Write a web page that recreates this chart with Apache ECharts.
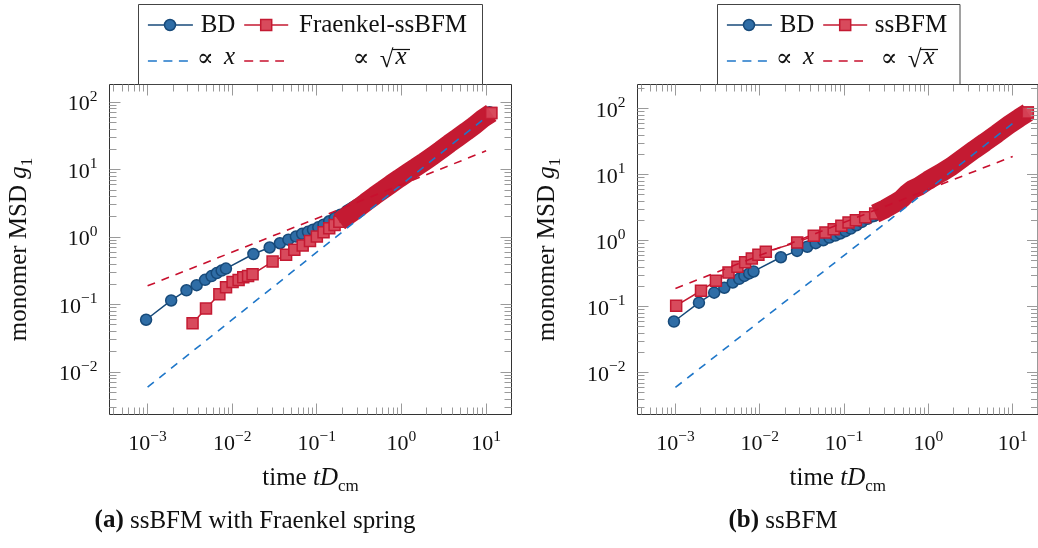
<!DOCTYPE html>
<html><head><meta charset="utf-8">
<script src="https://cdn.jsdelivr.net/npm/echarts@6/dist/echarts.min.js"></script>
<style>html,body{margin:0;padding:0;background:#fff}#c{width:1038px;height:548px}</style>
</head><body><div id="c"></div>
<script>
// ---------------- data ----------------
// Brownian dynamics reference (same in both panels)
const bdX = [0.00096, 0.0019, 0.00288, 0.0038, 0.00478, 0.0057, 0.00657, 0.0075, 0.00843,
  0.0178, 0.0277, 0.0366, 0.0461, 0.0566, 0.067, 0.0785, 0.09, 0.104, 0.12, 0.14, 0.163, 0.19,
  0.22, 0.27, 0.35, 0.45, 0.6, 0.8, 1.0, 1.4, 2.0, 3.0, 4.3, 6.0, 8.5, 11.0];
const bdY = [0.0598, 0.1155, 0.1635, 0.1945, 0.2335, 0.265, 0.294, 0.32, 0.343,
  0.563, 0.703, 0.813, 0.92, 1.02, 1.12, 1.20, 1.29, 1.40, 1.53, 1.72, 1.93, 2.15,
  2.35, 2.75, 3.35, 4.1, 5.3, 6.7, 8.0, 10.8, 15.2, 22, 30.5, 41, 57, 71];
// Fraenkel-ssBFM (panel a)
const frX = [0.0034, 0.0049, 0.00705, 0.00845, 0.0101, 0.0119, 0.0135, 0.0154, 0.0174, 0.030,
  0.0433, 0.0542, 0.068, 0.083, 0.10, 0.12, 0.14, 0.162, 0.1845, 0.22, 0.265, 0.32, 0.38, 0.48,
  0.60, 0.75, 0.944, 1.2, 1.49, 1.85, 2.34, 2.9, 3.68, 4.6, 5.8, 7.3, 9.12, 11.5];
const frY = [0.0532, 0.0875, 0.143, 0.182, 0.216, 0.233, 0.255, 0.267, 0.283, 0.435,
  0.547, 0.649, 0.751, 0.88, 1.02, 1.18, 1.36, 1.52, 1.70, 2.0, 2.35, 2.8, 3.3, 4.1,
  5.0, 6.1, 7.45, 9.1, 10.9, 13.1, 16.0, 19.5, 24.4, 29.8, 36.7, 45.5, 57, 69];
// ssBFM (panel b)
const ssX = [0.00102, 0.00201, 0.00302, 0.00426, 0.00544, 0.00671, 0.00805, 0.00964, 0.0118,
  0.0278, 0.0437, 0.0601, 0.0753, 0.0929, 0.113, 0.138, 0.178, 0.234, 0.308, 0.40, 0.483, 0.55,
  0.63, 0.76, 1.0, 1.4, 1.88, 2.6, 3.5, 4.66, 6.5, 9.0, 12.0, 15.1];
const ssY = [0.104, 0.175, 0.248, 0.332, 0.404, 0.471, 0.541, 0.614, 0.681,
  0.946, 1.19, 1.34, 1.50, 1.69, 1.90, 2.05, 2.28, 2.58, 3.05, 3.7, 4.3, 5.1,
  5.9, 6.6, 8.3, 10.6, 13.4, 18.2, 24, 31, 42, 57, 73, 88];
// guide lines  ∝ x  and  ∝ sqrt(x)
const refX = [0.001, 10];
const refLinY = [0.006, 60];
const refSqrtY = [0.19, 19];
// where the sampled points become so dense that they merge into a band
const bdBandFrom = 0.22, frBandFrom = 0.1845, ssBandFrom = 0.234;
// ticks
const xTickExponents = [-3, -2, -1, 0, 1];
const yTickExponents = [-2, -1, 0, 1, 2];
const minorExpX = [-4, -3, -2, -1, 0, 1];
const minorExpY = [-3, -2, -1, 0, 1, 2];
const minorMultipliers = [2, 3, 4, 5, 6, 7, 8, 9];
// texts
const legendSecond = ['Fraenkel-ssBFM', 'ssBFM'];
const captionTag = ['(a)', '(b)'];
const captionText = [' ssBFM with Fraenkel spring', ' ssBFM'];

// ---------------- layout / style ----------------
const FONT = '"Liberation Serif","DejaVu Serif",serif';
const X_RANGE = [-3.45, 1.30];
const Y_RANGES = [[-2.627, 2.262], [-2.632, 2.368]];
const GRIDS = [{left: 109.5, top: 84.5, width: 402, height: 330},
               {left: 637.5, top: 84.5, width: 402, height: 330}];
const BD_LINE = '#174a7a', BD_FILL = '#2f6da6';
const RED_LINE = '#c41a32', RED_FILL = '#d84a5c';
const BLUE_DASH = '#1f77c9', RED_DASH = '#c8102e';
const TICK = '#9a9a9a';

function pairs(xs, ys) { return xs.map((x, i) => [x, ys[i]]); }

function tickData() {
  const d = [];
  xTickExponents.forEach(e => d.push([Math.pow(10, e), 1, 1]));
  minorExpX.forEach(e => minorMultipliers.forEach(m => d.push([m * Math.pow(10, e), 1, 0])));
  yTickExponents.forEach(e => d.push([1, Math.pow(10, e), 3]));
  minorExpY.forEach(e => minorMultipliers.forEach(m => d.push([1, m * Math.pow(10, e), 2])));
  return d;
}
function renderTick(params, api) {
  const cs = params.coordSys;
  const k = api.value(2);
  const pt = api.coord([api.value(0), api.value(1)]);
  const len = (k === 1 || k === 3) ? 11 : 7;
  const st = {stroke: TICK, lineWidth: 1};
  if (k < 2) {
    const x = pt[0];
    if (x < cs.x + 1 || x > cs.x + cs.width - 1) return null;
    const xx = Math.round(x - 0.5) + 0.5;
    const b = cs.y + cs.height, t = cs.y;
    return {type: 'group', children: [
      {type: 'line', shape: {x1: xx, y1: b, x2: xx, y2: b - len}, style: st},
      {type: 'line', shape: {x1: xx, y1: t, x2: xx, y2: t + len}, style: st}]};
  } else {
    const y = pt[1];
    if (y < cs.y + 1 || y > cs.y + cs.height - 1) return null;
    const yy = Math.round(y - 0.5) + 0.5;
    const l = cs.x, r = cs.x + cs.width;
    return {type: 'group', children: [
      {type: 'line', shape: {x1: l, y1: yy, x2: l + len, y2: yy}, style: st},
      {type: 'line', shape: {x1: r, y1: yy, x2: r - len, y2: yy}, style: st}]};
  }
}

function fmtPow(v) {
  const e = Math.round(Math.log10(v));
  return '{b|10}{s|' + (e < 0 ? '\u2212' + (-e) : String(e)) + '}';
}
const powRich = {
  b: {fontSize: 22, fontFamily: FONT, lineHeight: 27, verticalAlign: 'bottom', color: '#111'},
  s: {fontSize: 15.5, fontFamily: FONT, lineHeight: 15, verticalAlign: 'top', color: '#111'}
};
const nameRich = {
  n: {fontSize: 25, fontFamily: FONT, lineHeight: 30, verticalAlign: 'top', color: '#111'},
  i: {fontSize: 25, fontFamily: FONT, fontStyle: 'italic', lineHeight: 30, verticalAlign: 'top', color: '#111'},
  s: {fontSize: 17, fontFamily: FONT, lineHeight: 22, verticalAlign: 'bottom', color: '#111'}
};

function panelSeries(p) {
  const red = p === 0 ? pairs(frX, frY) : pairs(ssX, ssY);
  const redBandFrom = p === 0 ? frBandFrom : ssBandFrom;
  const bd = pairs(bdX, bdY);
  const c = {xAxisIndex: p, yAxisIndex: p, silent: true, animation: false, emphasis: {disabled: true}};
  const redItem = {color: RED_FILL, borderColor: RED_LINE, borderWidth: 1.5};
  return [
    Object.assign({}, c, {type: 'line', name: 'BD', data: bd, symbol: 'circle', symbolSize: 11,
      lineStyle: {color: BD_LINE, width: 1.5}, itemStyle: {color: BD_FILL, borderColor: BD_LINE, borderWidth: 1.5}, z: 2}),
    Object.assign({}, c, {type: 'line', data: bd.filter(d => d[0] >= bdBandFrom), symbol: 'none',
      lineStyle: {color: BD_LINE, width: 13}, z: 3}),
    Object.assign({}, c, {type: 'line', name: legendSecond[p], data: red, symbol: 'rect', symbolSize: 11,
      lineStyle: {color: RED_LINE, width: 1.5}, itemStyle: redItem, z: 4}),
    Object.assign({}, c, {type: 'line', data: red.filter(d => d[0] >= redBandFrom), symbol: 'none',
      lineStyle: {color: RED_LINE, width: 19}, z: 5}),
    Object.assign({}, c, {type: 'scatter', data: [red[red.length - 1]], symbol: 'rect', symbolSize: 11,
      itemStyle: redItem, z: 6}),
    Object.assign({}, c, {type: 'line', data: pairs(refX, refLinY), symbol: 'none',
      lineStyle: {color: BLUE_DASH, width: 1.6, type: [8, 7]}, z: 7}),
    Object.assign({}, c, {type: 'line', data: pairs(refX, refSqrtY), symbol: 'none',
      lineStyle: {color: RED_DASH, width: 1.6, type: [8, 7]}, z: 7}),
    Object.assign({}, c, {type: 'custom', data: tickData(), renderItem: renderTick,
      encode: {x: 0, y: 1}, z: 8, clip: false})
  ];
}

function legendGraphic(p) {
  const bx = p === 0 ? 138.5 : 717.5;
  const w = p === 0 ? 344 : 242.5;
  const c2 = p === 0 ? 383 : 911;
  const r1 = 25, r2 = 61;
  const txt = (t, x, y) => ({type: 'text', z: 12,
    style: {text: t, x: x, y: y, fill: '#111', font: '25px ' + FONT, align: 'center', verticalAlign: 'middle',
      textAlign: 'center', textVerticalAlign: 'middle'}});
  const it = (t, x, y) => ({type: 'text', z: 12, style: {text: t, x: x, y: y, fill: '#111',
    font: 'italic 25px ' + FONT, align: 'center', verticalAlign: 'middle', textAlign: 'center', textVerticalAlign: 'middle'}});
  return [
    {type: 'rect', z: 10, shape: {x: bx, y: 4.5, width: w, height: 80}, style: {fill: '#fff', stroke: '#444', lineWidth: 1}},
    {type: 'line', z: 11, shape: {x1: bx + 9.4, y1: r1, x2: bx + 54.4, y2: r1}, style: {stroke: BD_LINE, lineWidth: 1.5}},
    {type: 'circle', z: 12, shape: {cx: bx + 31.5, cy: r1, r: 5.5}, style: {fill: BD_FILL, stroke: BD_LINE, lineWidth: 1.5}},
    txt('BD', bx + 79.5, r1),
    {type: 'line', z: 11, shape: {x1: bx + 105.7, y1: r1, x2: bx + 149.7, y2: r1}, style: {stroke: RED_LINE, lineWidth: 1.5}},
    {type: 'rect', z: 12, shape: {x: bx + 122.2, y: r1 - 5.5, width: 11, height: 11}, style: {fill: RED_FILL, stroke: RED_LINE, lineWidth: 1.5}},
    txt(legendSecond[p], c2, r1),
    {type: 'line', z: 11, shape: {x1: bx + 9.4, y1: r2, x2: bx + 49.4, y2: r2}, style: {stroke: BLUE_DASH, lineWidth: 1.6, lineDash: [9, 6.5]}},
    {type: 'line', z: 11, shape: {x1: bx + 105.7, y1: r2, x2: bx + 145.5, y2: r2}, style: {stroke: RED_DASH, lineWidth: 1.6, lineDash: [9, 6.5]}},
    txt('\u221D', bx + 66.7, r2 - 2),
    it('x', bx + 91, r2 - 4),
    txt('\u221D', c2 - 22, r2 - 2),
    txt('\u221A', c2 + 3.5, r2 - 1),
    it('x', c2 + 18, r2 - 4),
    {type: 'line', z: 12, shape: {x1: c2 + 9, y1: 49.5, x2: c2 + 27, y2: 49.5}, style: {stroke: '#111', lineWidth: 1.2}}
  ];
}

function captionGraphic(p) {
  return {type: 'text', z: 12, style: {
    text: '{b|' + captionTag[p] + '}{n|' + captionText[p] + '}',
    x: p === 0 ? 255 : 783, y: 521, align: 'center', verticalAlign: 'middle', textAlign: 'center', textVerticalAlign: 'middle',
    rich: {b: {fontSize: 25, fontFamily: FONT, fontWeight: 'bold', fill: '#111', color: '#111'},
           n: {fontSize: 25, fontFamily: FONT, fill: '#111', color: '#111'}}}};
}

const xAxes = [0, 1].map(p => ({
  type: 'log', logBase: 10, gridIndex: p,
  min: Math.pow(10, X_RANGE[0]), max: Math.pow(10, X_RANGE[1]),
  axisLine: {show: false}, axisTick: {show: false}, splitLine: {show: false}, minorTick: {show: false},
  axisLabel: {margin: 14, showMinLabel: false, showMaxLabel: false, formatter: fmtPow, rich: powRich, fontFamily: FONT, fontSize: 22, color: '#111'},
  name: '{n|time }{i|tD}{s|cm}', nameLocation: 'middle', nameGap: 51,
  nameTextStyle: {rich: nameRich, fontFamily: FONT, fontSize: 25, color: '#111'}
}));
const yAxes = [0, 1].map(p => ({
  type: 'log', logBase: 10, gridIndex: p,
  min: Math.pow(10, Y_RANGES[p][0]), max: Math.pow(10, Y_RANGES[p][1]),
  axisLine: {show: false}, axisTick: {show: false}, splitLine: {show: false}, minorTick: {show: false},
  axisLabel: {margin: 12, showMinLabel: false, showMaxLabel: false, formatter: fmtPow, rich: powRich, fontFamily: FONT, fontSize: 22, color: '#111'},
  name: '{n|monomer MSD }{i|g}{s|1}', nameLocation: 'middle', nameGap: 73,
  nameTextStyle: {rich: nameRich, fontFamily: FONT, fontSize: 25, color: '#111'}
}));

const chart = echarts.init(document.getElementById('c'), null, {renderer: 'canvas'});
chart.setOption({
  backgroundColor: '#fff',
  animation: false,
  grid: GRIDS.map(g => Object.assign({show: true, borderColor: '#333', borderWidth: 1, backgroundColor: 'transparent', containLabel: false}, g)),
  xAxis: xAxes,
  yAxis: yAxes,
  series: panelSeries(0).concat(panelSeries(1)),
  graphic: {elements: legendGraphic(0).concat(legendGraphic(1), [captionGraphic(0), captionGraphic(1)])}
});
</script></body></html>
